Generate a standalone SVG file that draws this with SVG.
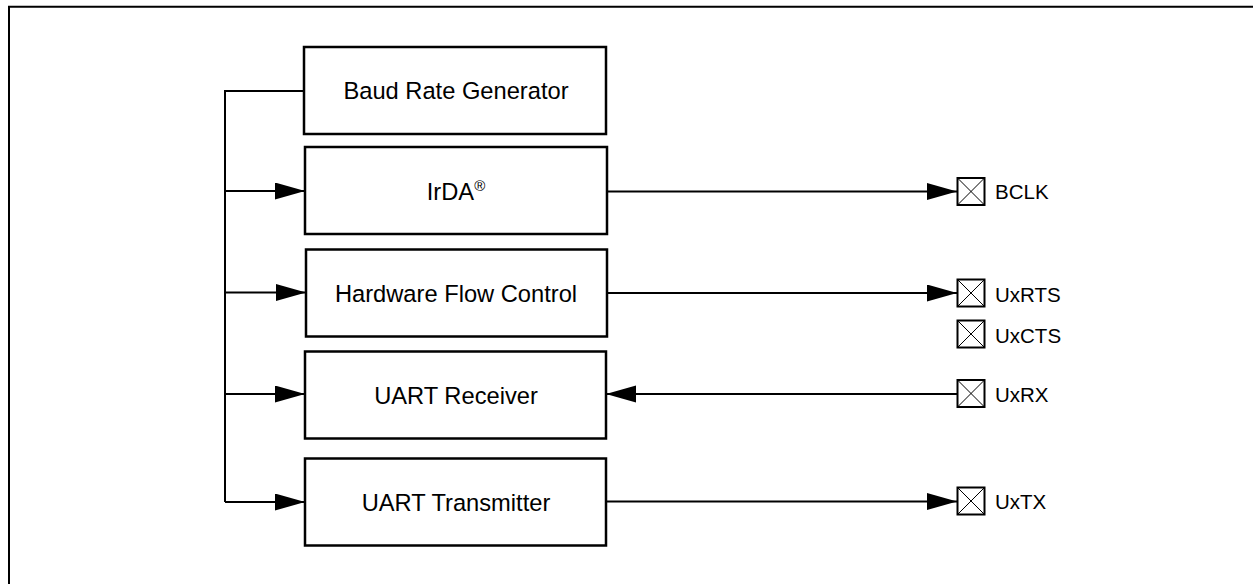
<svg xmlns="http://www.w3.org/2000/svg" width="1253" height="584" viewBox="0 0 1253 584">
<style>
.box{fill:#fff;stroke:#000;stroke-width:2.5}
.ln{fill:none;stroke:#000;stroke-width:2}
.arr{fill:none;stroke:#000;stroke-width:2;marker-end:url(#ah)}
.lbl{font-family:"Liberation Sans",Arial,sans-serif;font-size:23.7px;text-anchor:middle;fill:#000}
.pin{fill:#fff;stroke:#000;stroke-width:2}
.x{stroke:#000;stroke-width:1;fill:none}
.pl{font-family:"Liberation Sans",Arial,sans-serif;font-size:20.5px;fill:#000}
</style>
<defs>
<marker id="ah" markerUnits="userSpaceOnUse" markerWidth="31" markerHeight="18" refX="30" refY="8.5" orient="auto">
<path d="M0,0 L30,8.5 L0,17 z" fill="#000"/>
</marker>
</defs>
<rect width="1253" height="584" fill="#fff"/>
<path class="ln" d="M9,584 V6.8 H1253" stroke-width="2.4"/>

<g id="connectors">
<path class="ln" d="M304,91 H225 V502"/>
<path class="arr" d="M225,191 H305"/>
<path class="arr" d="M225,292.5 H306"/>
<path class="arr" d="M225,394 H305"/>
<path class="arr" d="M225,502 H305"/>
<path class="arr" d="M607,191.5 H957"/>
<path class="arr" d="M607,293 H957"/>
<path class="arr" d="M957,394 H606"/>
<path class="arr" d="M606,501.5 H957"/>
</g>

<g id="baud">
<rect class="box" x="304" y="47" width="302" height="87"/>
<text class="lbl" x="456" y="98.5">Baud Rate Generator</text>
</g>
<g id="irda">
<rect class="box" x="305" y="147" width="302" height="87"/>
<text class="lbl" x="456" y="199.5">IrDA<tspan font-size="15" dy="-9">®</tspan></text>
</g>
<g id="hfc">
<rect class="box" x="306" y="249.5" width="301" height="87"/>
<text class="lbl" x="456" y="302">Hardware Flow Control</text>
</g>
<g id="rx">
<rect class="box" x="305" y="351.5" width="301" height="87"/>
<text class="lbl" x="456" y="403.5">UART Receiver</text>
</g>
<g id="tx">
<rect class="box" x="305" y="458.5" width="301" height="87"/>
<text class="lbl" x="456" y="510.5">UART Transmitter</text>
</g>

<g id="pin-bclk">
<rect class="pin" x="957.5" y="178" width="27" height="27"/>
<path class="x" d="M957.5,178 L984.5,205 M984.5,178 L957.5,205"/>
<text class="pl" x="995" y="199">BCLK</text>
</g>
<g id="pin-uxrts">
<rect class="pin" x="957.5" y="279.5" width="27" height="27"/>
<path class="x" d="M957.5,279.5 L984.5,306.5 M984.5,279.5 L957.5,306.5"/>
<text class="pl" x="995" y="302">UxRTS</text>
</g>
<g id="pin-uxcts">
<rect class="pin" x="957.5" y="320.5" width="27" height="27"/>
<path class="x" d="M957.5,320.5 L984.5,347.5 M984.5,320.5 L957.5,347.5"/>
<text class="pl" x="995" y="342.5">UxCTS</text>
</g>
<g id="pin-uxrx">
<rect class="pin" x="957.5" y="380" width="27" height="27"/>
<path class="x" d="M957.5,380 L984.5,407 M984.5,380 L957.5,407"/>
<text class="pl" x="995" y="401.5">UxRX</text>
</g>
<g id="pin-uxtx">
<rect class="pin" x="957.5" y="487.5" width="27" height="27"/>
<path class="x" d="M957.5,487.5 L984.5,514.5 M984.5,487.5 L957.5,514.5"/>
<text class="pl" x="995" y="508.5">UxTX</text>
</g>
</svg>
